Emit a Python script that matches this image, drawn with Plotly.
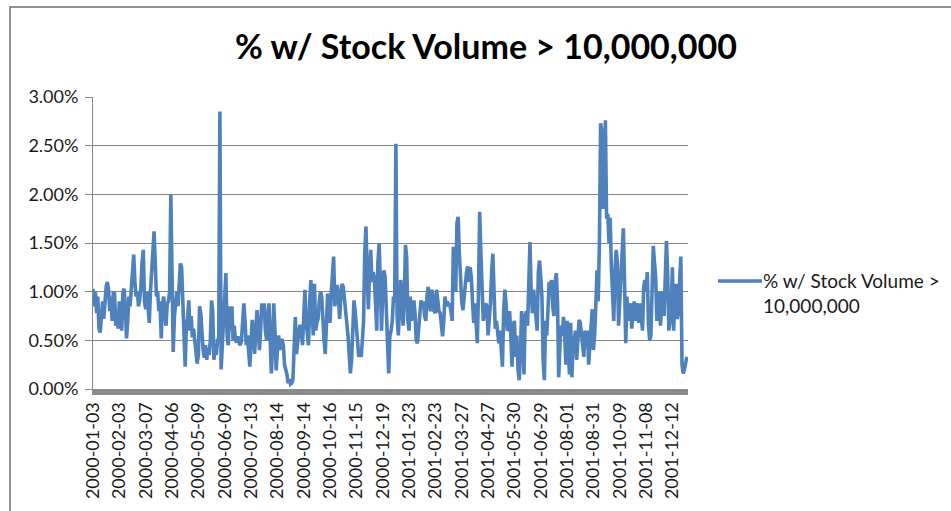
import plotly.graph_objects as go

# Share of listed stocks trading more than 10,000,000 shares, one value per trading day (percent)
pct_high_volume = [
    # 2000-01-03 onward
    1.03, 0.85, 1.0, 0.78, 0.95, 0.62, 0.58, 0.75, 0.9, 0.72,
    0.95, 1.05, 1.1, 1.02, 0.8, 0.95, 0.7, 1.0, 0.98, 0.65,
    0.8, 0.62, 0.9, 0.7, 0.6, 1.0, 1.03, 0.85, 0.52, 0.7,
    0.95, 0.85, 1.0, 1.2, 1.38, 1.1, 0.95, 1.0, 0.85, 0.92,
    1.05, 1.3, 1.43, 0.9, 0.82, 1.0, 0.75, 0.68, 1.0, 1.25,
    1.55, 1.62, 1.3, 0.95, 1.0, 0.8, 0.9, 0.52, 0.85, 0.95,
    0.8, 0.65, 0.88, 0.9, 1.0, 2.0, 1.2, 0.38, 0.75, 0.9,
    1.0, 0.85, 1.05, 1.29, 1.25, 0.9, 0.5, 0.23, 0.65, 0.72,
    0.91, 0.6, 0.75, 0.53, 0.62, 0.47, 0.38, 0.26, 0.35, 0.85,
    0.78, 0.55, 0.4, 0.32, 0.45, 0.3, 0.42, 0.35, 0.5, 0.91,
    0.8, 0.3, 0.42, 0.35, 0.5, 0.5, 2.85, 0.2, 0.5, 0.7,
    0.95, 1.19, 0.55, 0.45, 0.85, 0.6, 0.85, 0.5, 0.65, 0.5,
    0.48, 0.54, 0.48, 0.45, 0.5, 0.75, 0.88, 0.7, 0.45, 0.55,
    0.4, 0.23, 0.5, 0.71, 0.55, 0.36, 0.6, 0.81, 0.65, 0.4,
    0.6, 0.88, 0.75, 0.88, 0.6, 0.5, 0.75, 0.88, 0.5, 0.16,
    0.45, 0.88, 0.6, 0.19, 0.4, 0.55, 0.4, 0.5, 0.5, 0.45,
    0.25, 0.2, 0.15, 0.06, 0.1, 0.05, 0.06, 0.1, 0.5, 0.74,
    0.36, 0.55, 0.6, 0.66, 0.6, 0.45, 0.8, 1.02, 0.7, 0.6,
    0.45, 0.9, 1.12, 0.8, 0.55, 1.08, 0.6, 0.68, 0.72, 0.9,
    1.0, 0.95, 0.68, 0.5, 0.36, 0.75, 0.98, 0.85, 0.68, 0.98,
    1.2, 1.36, 0.85, 0.95, 1.07, 0.95, 0.72, 0.95, 1.08, 1.05,
    0.95, 0.8, 0.68, 0.55, 0.35, 0.16, 0.3, 0.75, 0.91, 0.8,
    0.6, 0.45, 0.33, 0.4, 0.33, 0.5, 0.7, 1.4, 1.67, 1.2,
    0.82, 1.2, 1.43, 1.1, 1.2, 1.15, 0.9, 0.6, 1.3, 1.5,
    1.1, 0.6, 1.0, 1.22, 1.15, 0.8, 0.45, 0.16, 0.55, 0.6,
    # 2001
    0.7, 0.95, 0.9, 2.52, 0.75, 0.55, 0.8, 1.12, 0.95, 0.65,
    0.9, 1.48, 1.35, 0.7, 0.6, 0.95, 0.7, 0.85, 0.91, 0.78,
    0.5, 0.47, 0.6, 0.75, 0.91, 0.85, 0.9, 0.75, 0.7, 0.95,
    1.05, 0.85, 0.8, 1.02, 0.95, 0.8, 0.78, 1.02, 0.85, 0.8,
    0.78, 0.6, 0.54, 0.7, 0.95, 0.85, 0.9, 0.85, 0.88, 0.8,
    0.7, 1.46, 1.15, 1.0, 1.7, 1.77, 1.4, 1.0, 0.9, 0.81,
    0.95, 1.0, 1.2, 1.26, 1.1, 1.25, 1.15, 0.9, 0.68, 0.88,
    0.7, 0.47, 1.0, 1.82, 1.4, 0.9, 0.7, 0.8, 0.88, 0.85,
    0.55, 0.72, 0.88, 1.2, 1.39, 1.0, 0.62, 0.7, 0.55, 0.47,
    0.6, 0.35, 0.23, 0.8, 1.02, 0.88, 0.6, 0.62, 0.8, 0.55,
    0.23, 0.65, 0.7, 0.33, 0.55, 0.2, 0.09, 0.35, 0.8, 0.6,
    0.15, 0.75, 0.8, 0.65, 1.3, 1.51, 1.0, 0.78, 1.02, 0.85,
    0.75, 0.6, 1.2, 1.32, 1.15, 0.95, 0.3, 0.09, 0.7, 0.55,
    0.8, 1.1, 1.05, 1.12, 0.85, 0.75, 1.1, 1.19, 0.9, 0.12,
    0.45, 0.65, 0.55, 0.74, 0.55, 0.25, 0.7, 0.4, 0.15, 0.68,
    0.12, 0.45, 0.5, 0.6, 0.3, 0.5, 0.71, 0.68, 0.5, 0.45,
    0.33, 0.6, 0.48, 0.6, 0.25, 0.45, 0.7, 0.82, 0.4, 0.55,
    0.85, 1.22, 0.9, 1.5, 2.73, 2.65, 1.85, 2.55, 2.76, 1.75,
    1.8, 1.5, 1.76, 1.25, 0.95, 0.7, 1.2, 1.43, 1.3, 0.65,
    0.9, 1.15, 1.55, 1.65, 1.1, 0.47, 0.95, 0.7, 0.85, 0.88,
    0.62, 0.8, 0.9, 0.7, 0.88, 0.85, 0.68, 0.88, 0.75, 0.6,
    1.05, 1.12, 1.0, 1.2, 0.65, 0.5, 0.55, 1.2, 1.47, 1.3,
    1.15, 0.7, 0.85, 1.0, 0.65, 0.8, 1.0, 0.75, 1.3, 1.52,
    1.2, 0.6, 0.7, 0.85, 1.25, 0.6, 0.9, 1.08, 0.72, 0.8,
    1.1, 1.36, 0.25, 0.16, 0.2, 0.25, 0.33,
]

# Every 22nd trading day is labelled on the category axis
tick_labels = [
    "2000-01-03", "2000-02-03", "2000-03-07", "2000-04-06", "2000-05-09",
    "2000-06-09", "2000-07-13", "2000-08-14", "2000-09-14", "2000-10-16",
    "2000-11-15", "2000-12-19", "2001-01-23", "2001-02-23", "2001-03-27",
    "2001-04-27", "2001-05-30", "2001-06-29", "2001-08-01", "2001-08-31",
    "2001-10-09", "2001-11-08", "2001-12-12",
]
label_step = 22

series_name = "% w/ Stock Volume > 10,000,000"
y_ticks = [0, 0.5, 1.0, 1.5, 2.0, 2.5, 3.0]

W, H = 951, 511
ML, MR, MT, MB = 93, 263, 97, 122
PW, PH = W - ML - MR, H - MT - MB
FONT = "Lato, 'DejaVu Sans', sans-serif"
BLUE = "#4f81bd"
GRID = "#868686"
TEXT = "#1a1a1a"


def px_x(px):
    return (px - ML) / PW


def px_y(py):
    return (H - MB - py) / PH


day_index = list(range(len(pct_high_volume)))

fig = go.Figure()
fig.add_trace(go.Scatter(
    x=day_index, y=pct_high_volume, mode="lines", name=series_name,
    line=dict(color=BLUE, width=3.6), showlegend=False,
))

# Legend drawn as a line sample plus wrapped text
fig.add_shape(type="line", xref="paper", yref="paper",
              x0=px_x(718), x1=px_x(762), y0=px_y(281), y1=px_y(281),
              line=dict(color=BLUE, width=3.6))
fig.add_annotation(xref="paper", yref="paper", x=px_x(761), y=px_y(267),
                   xanchor="left", yanchor="top", align="left",
                   text="% w/ Stock Volume ><br>10,000,000", showarrow=False,
                   font=dict(family=FONT, size=19, color=TEXT))

# Chart-area border
fig.add_shape(type="rect", xref="paper", yref="paper",
              x0=px_x(10), x1=px_x(980), y0=px_y(540), y1=px_y(7),
              line=dict(color="#6f6f6f", width=1.5), fillcolor="rgba(0,0,0,0)")

fig.update_layout(
    width=W, height=H,
    margin=dict(l=ML, r=MR, t=MT, b=MB),
    paper_bgcolor="white", plot_bgcolor="white",
    title=dict(text=series_name, xref="container", yref="container",
               x=486 / W, y=1 - 47 / H, xanchor="center", yanchor="middle",
               font=dict(family=FONT, size=34, color="#000000", weight="bold")),
    xaxis=dict(range=[0, len(pct_high_volume)], showgrid=False, zeroline=False,
               showline=True, linecolor="#8c8c8c", linewidth=6,
               tickmode="array",
               tickvals=[k * label_step for k in range(len(tick_labels))],
               ticktext=tick_labels, tickangle=-90, ticks="",
               tickfont=dict(family=FONT, size=18, color=TEXT)),
    yaxis=dict(range=[0, 3.0], tickmode="array", tickvals=y_ticks,
               ticktext=[f"{v:.2f}%" for v in y_ticks],
               showgrid=True, gridcolor=GRID, gridwidth=1, zeroline=False,
               showline=True, linecolor=GRID, linewidth=1,
               ticks="outside", ticklen=7, tickcolor=GRID,
               ticklabelstandoff=3,
               tickfont=dict(family=FONT, size=18, color=TEXT)),
)

fig.write_html("out.html")
